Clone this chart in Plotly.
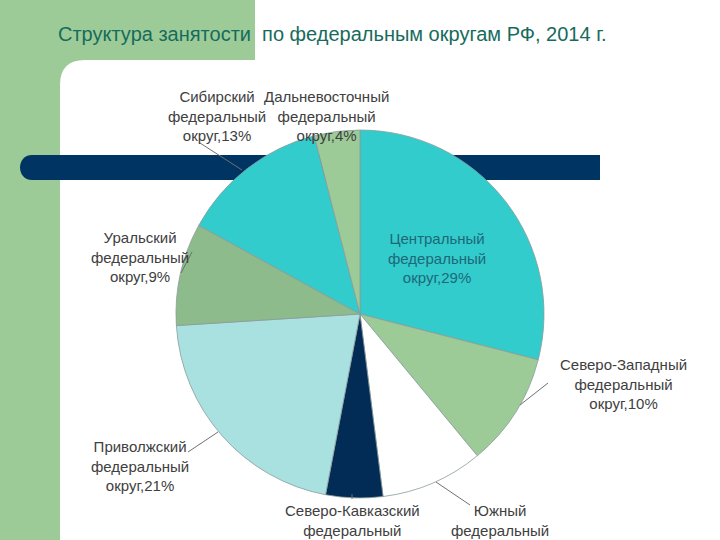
import plotly.graph_objects as go

# доли занятых по федеральным округам, 2014 г., %
okruga = ["Центральный", "Северо-Западный", "Южный", "Северо-Кавказский",
          "Приволжский", "Уральский", "Сибирский", "Дальневосточный"]
doli = [29, 10, 9, 5, 21, 9, 13, 4]
cveta = ["#33CCCC", "#9CCB98", "#FFFFFF", "#022B55",
         "#A9E1E0", "#8DBB8B", "#33CCCC", "#9CCB98"]

W, H = 720, 540

# где стоят подписи (центр текста, px) и выноски к ним
label_pos = [(437, 258), (623, 384), (500, 530), (352, 530),
             (140, 466), (140, 257), (217, 116), (326, 116)]
leaders = [None, (548, 383, 520, 405), (436, 482, 470, 505), (352, 494, 352, 499),
           (218, 432, 188, 452), (192, 252, 181, 273), (200, 143, 242, 170), None]


def px(x, y):
    # пиксели -> доли листа (paper)
    return x / W, 1 - y / H


def pstr(x, y):
    a, b = px(x, y)
    return f"{a:.5f},{b:.5f}"


cx, cy, r = 360, 314, 184
fig = go.Figure(go.Pie(
    labels=okruga,
    values=doli,
    textinfo="none",
    marker=dict(colors=cveta, line=dict(color="#8A9A9A", width=0.8)),
    sort=False,
    direction="clockwise",
    rotation=0,
    showlegend=False,
    hoverinfo="label+percent",
    domain=dict(x=[(cx - r) / W, (cx + r) / W],
                y=[1 - (cy + r) / H, 1 - (cy - r) / H]),
))

# фон слайда: зелёная полоса слева и сверху со скруглённым углом
green = (f"M{pstr(0, 0)} L{pstr(255, 0)} L{pstr(255, 60)} L{pstr(85, 60)} "
         f"Q{pstr(60, 60)} {pstr(60, 85)} L{pstr(60, H)} L{pstr(0, H)} Z")

# тёмно-синяя полоса со скруглённым левым краем
bar = (f"M{pstr(32, 155)} L{pstr(600, 155)} L{pstr(600, 180)} L{pstr(32, 180)} "
       f"C{pstr(16, 180)} {pstr(16, 155)} {pstr(32, 155)} Z")

shapes = [
    dict(type="path", path=green, xref="paper", yref="paper",
         fillcolor="#9CCB98", line=dict(width=0), layer="below"),
    dict(type="path", path=bar, xref="paper", yref="paper",
         fillcolor="#003462", line=dict(width=0), layer="below"),
]
for ld in leaders:
    if ld is None:
        continue
    x0, y0 = px(ld[0], ld[1])
    x1, y1 = px(ld[2], ld[3])
    shapes.append(dict(type="line", x0=x0, y0=y0, x1=x1, y1=y1,
                       xref="paper", yref="paper",
                       line=dict(color="#707070", width=1)))

annotations = [dict(
    text="Структура занятости  по федеральным округам РФ, 2014 г.",
    x=56 / W, y=1 - 34 / H, xref="paper", yref="paper",
    xanchor="left", yanchor="middle", showarrow=False,
    font=dict(family="Liberation Sans, Arial", size=20, color="#176B5C"),
)]
for i, (n, v) in enumerate(zip(okruga, doli)):
    lx, ly = px(*label_pos[i])
    annotations.append(dict(
        text=f"{n}<br>федеральный<br>округ,{v}%",
        x=lx, y=ly, xref="paper", yref="paper",
        xanchor="center", yanchor="middle", showarrow=False,
        font=dict(family="Liberation Sans, Arial", size=15,
                  color="#1D6878" if i == 0 else "#404040"),
    ))

fig.update_layout(
    width=W, height=H,
    margin=dict(l=0, r=0, t=0, b=0),
    paper_bgcolor="white",
    plot_bgcolor="white",
    shapes=shapes,
    annotations=annotations,
)

fig.write_html("out.html",
               config={"displayModeBar": False},
               post_script="document.body.style.margin='0';"
                           "document.body.style.overflow='hidden';")
